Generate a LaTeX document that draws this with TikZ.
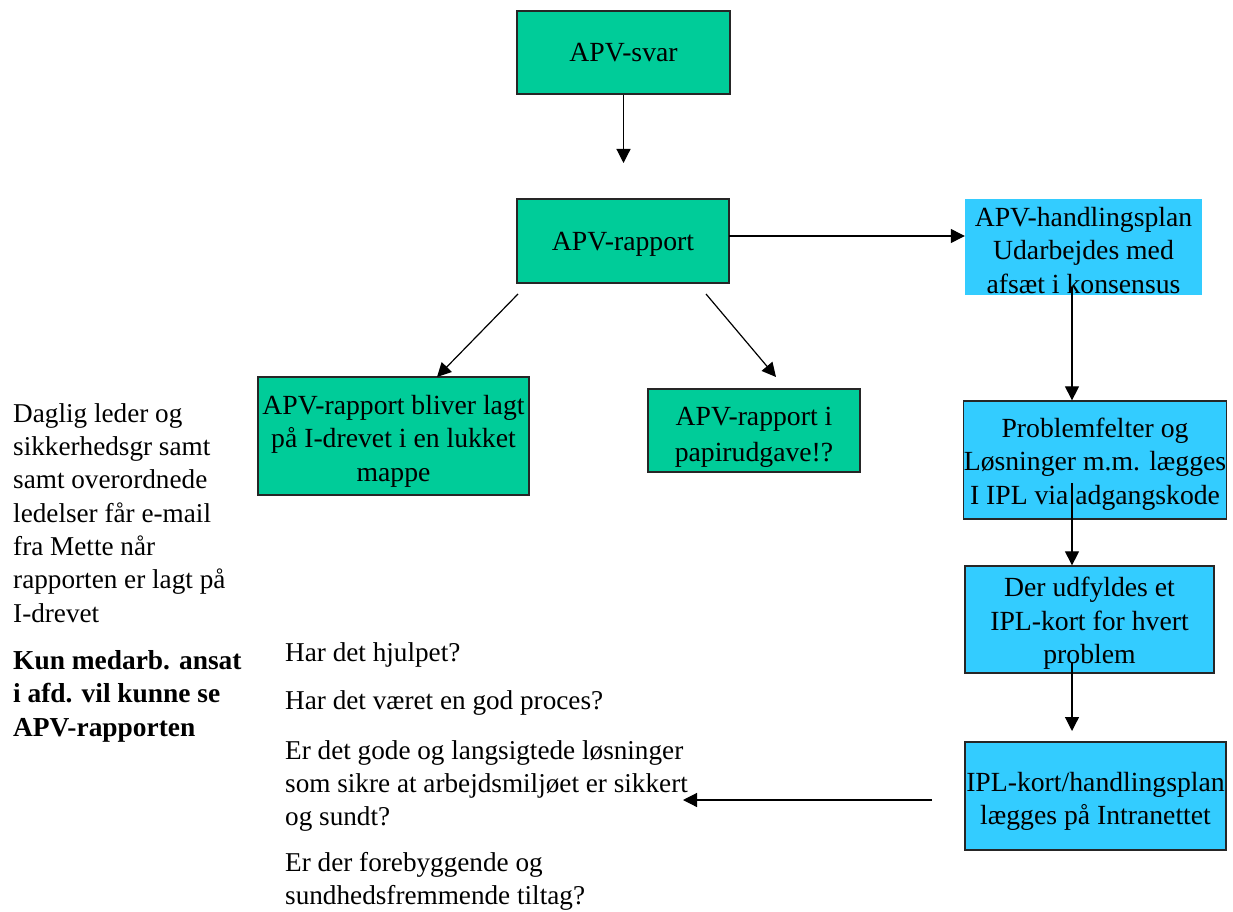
\documentclass[tikz,border=0pt]{standalone}
\usepackage{fontspec}
\setmainfont{Liberation Serif}
\usetikzlibrary{arrows.meta}
\definecolor{boxgreen}{RGB}{0,204,153}
\definecolor{boxblue}{RGB}{51,204,255}
\newcommand{\firstup}[1]{\rule{0pt}{#1}}
\begin{document}
\begin{tikzpicture}[x=1pt,y=-1pt,
  font=\fontsize{27.7}{33.5}\selectfont,
  gbox/.style={draw=black!85, line width=1.3pt, fill=boxgreen, align=center, inner sep=0pt},
  bbox/.style={draw=black!85, line width=1.3pt, fill=boxblue, align=center, inner sep=0pt},
  nbox/.style={fill=boxblue, align=center, inner sep=0pt},
  conn/.style={line width=1.2pt, -{Triangle[length=14pt,width=14pt]}},
  txt/.style={anchor=base west, inner sep=0pt, font=\fontsize{27.2}{33.5}\selectfont},
  btxt/.style={anchor=base west, inner sep=0pt, font=\fontsize{27.4}{33.5}\selectfont\bfseries}]
\useasboundingbox (0,0) rectangle (1233,912);
% boxes
\node[gbox, minimum width=213pt, minimum height=83pt] (svar) at (623.5,52.5) {APV-svar};
\node[gbox, minimum width=212pt, minimum height=84pt] (rapport) at (623,241) {\firstup{25pt}APV-rapport};
\node[nbox, minimum width=237pt, minimum height=96pt] (handl) at (1083.5,247) {\firstup{26pt}APV-handlingsplan\\Udarbejdes med\\afsæt i konsensus};
\node[bbox, minimum width=260pt, minimum height=118pt] (problem) at (1095,460) {\firstup{27pt}Problemfelter og\\Løsninger m.m. lægges\\I IPL via adgangskode};
\node[bbox, minimum width=249pt, minimum height=107pt] (derud) at (1089.5,619.5) {\firstup{27pt}Der udfyldes et\\IPL-kort for hvert\\problem};
\node[bbox, minimum width=261pt, minimum height=108pt] (ipl) at (1095.5,796) {\firstup{30pt}IPL-kort/handlingsplan\\lægges på Intranettet};
\node[gbox, minimum width=271pt, minimum height=118pt] (bliver) at (393.5,436) {\firstup{29pt}APV-rapport bliver lagt\\på I-drevet i en lukket\\mappe};
\node[gbox, minimum width=212pt, minimum height=83pt, font=\fontsize{27.7}{36}\selectfont] (papir) at (754,430.5) {\firstup{32pt}APV-rapport i\\papirudgave!?};
% free ends
\coordinate (e1) at (623.5,163);
\coordinate (s2) at (1072,287);
\coordinate (s3) at (1072,483);
\coordinate (s4) at (1072,662);
\coordinate (e4) at (1072,731);
\coordinate (s5) at (932,800);
\coordinate (e5) at (683,800);
\coordinate (s6) at (518,294);
\coordinate (e6) at (437,377);
\coordinate (s7) at (706,294);
\coordinate (e7) at (776,377);
\coordinate (s8) at (729,236);
% connectors
\draw[conn] (svar.south) -- (e1);
\draw[conn] (s8) -- (s8 -| handl.west);
\draw[conn] (s2) -- (s2 |- problem.north);
\draw[conn] (s3) -- (s3 |- derud.north);
\draw[conn] (s4) -- (e4);
\draw[conn] (s5) -- (e5);
\draw[conn] (s6) -- (e6);
\draw[conn] (s7) -- (e7);
% left text
\node[txt] (l1) at (13,422) {Daglig leder og};
\node[txt] (l2) at (13,455.3) {sikkerhedsgr samt};
\node[txt] (l3) at (13,488.6) {samt overordnede};
\node[txt] (l4) at (13,522) {ledelser får e-mail};
\node[txt] (l5) at (13,555.3) {fra Mette når};
\node[txt] (l6) at (13,588.6) {rapporten er lagt på};
\node[txt] (l7) at (13,622) {I-drevet};
\node[btxt] (b1) at (13,669) {Kun medarb. ansat};
\node[btxt] (b2) at (13,702.5) {i afd. vil kunne se};
\node[btxt] (b3) at (13,736) {APV-rapporten};
% middle text
\node[txt] (m1) at (285,661) {Har det hjulpet?};
\node[txt] (m2) at (285,709) {Har det været en god proces?};
\node[txt] (m3) at (285,759) {Er det gode og langsigtede løsninger};
\node[txt] (m4) at (285,792) {som sikre at arbejdsmiljøet er sikkert};
\node[txt] (m5) at (285,825) {og sundt?};
\node[txt] (m6) at (285,871) {Er der forebyggende og};
\node[txt] (m7) at (285,904) {sundhedsfremmende tiltag?};
\end{tikzpicture}
\end{document}
